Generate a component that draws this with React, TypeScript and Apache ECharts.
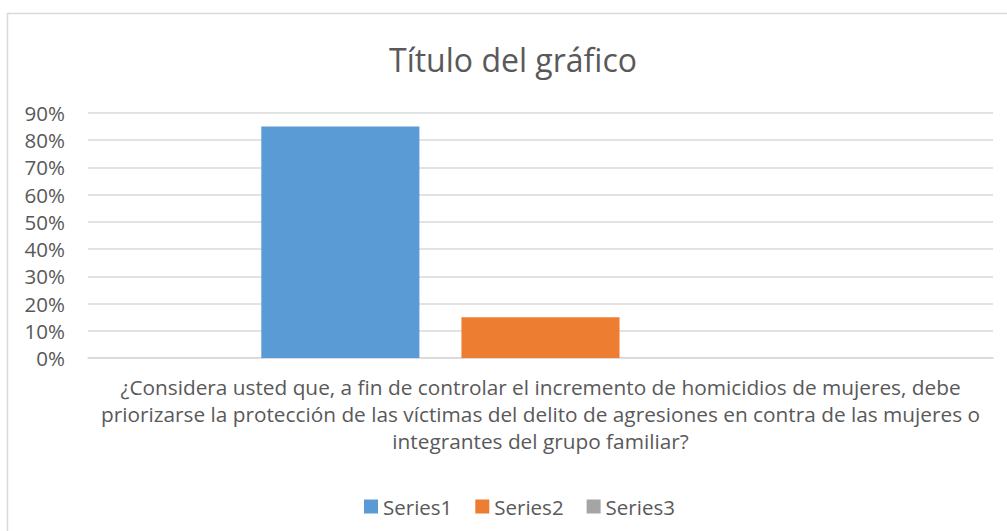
import React, { useEffect, useRef } from "react";
import * as echarts from "echarts";

const categories = [
  "¿Considera usted que, a fin de controlar el incremento de homicidios de mujeres, debe\npriorizarse la protección de las víctimas del delito de agresiones en contra de las mujeres o\nintegrantes del grupo familiar?",
];
const seriesNames = ["Series1", "Series2", "Series3"];
const series1 = [0.85];
const series2 = [0.15];
const series3 = [0];
const colors = ["#5B9BD5", "#ED7D31", "#A5A5A5"];

const FONT = "'Open Sans', 'Noto Sans', sans-serif";
const TEXT = "#595959";

export default function App() {
  const ref = useRef<HTMLDivElement>(null);
  useEffect(() => {
    if (!ref.current) return;
    const chart = echarts.init(ref.current, undefined, { renderer: "svg" });
    const values = [series1, series2, series3];
    chart.setOption({
      animation: false,
      backgroundColor: "#ffffff",
      textStyle: { fontFamily: FONT, color: TEXT },
      title: {
        text: "Título del gráfico",
        left: 384,
        top: 38,
        textStyle: { fontFamily: FONT, fontSize: 32, fontWeight: "normal", color: TEXT },
      },
      graphic: [
        {
          type: "rect",
          shape: { x: 7.5, y: 13.5, width: 1010, height: 530 },
          style: { fill: "none", stroke: "#D9D9D9", lineWidth: 1.5 },
          silent: true,
        },
      ],
      legend: {
        data: seriesNames,
        bottom: 9,
        left: 359,
        icon: "rect",
        itemWidth: 14,
        itemHeight: 14,
        itemGap: 23,
        textStyle: { fontFamily: FONT, fontSize: 20.5, color: TEXT, padding: [0, 0, 0, 0] },
      },
      grid: { left: 88, right: 14, top: 113, bottom: 173, containLabel: false },
      xAxis: {
        type: "category",
        data: categories,
        axisLine: { show: true, lineStyle: { color: "#D9D9D9", width: 1.5 } },
        axisTick: { show: false },
        axisLabel: {
          fontFamily: FONT,
          fontSize: 20.8,
          color: TEXT,
          lineHeight: 27,
          margin: 15,
          align: "center",
        },
      },
      yAxis: {
        type: "value",
        min: 0,
        max: 0.9,
        interval: 0.1,
        axisLine: { show: false },
        axisTick: { show: false },
        splitLine: { lineStyle: { color: "#D9D9D9", width: 1.5 } },
        axisLabel: {
          fontFamily: FONT,
          fontSize: 20.5,
          color: TEXT,
          margin: 23,
          formatter: (v: number) => `${Math.round(v * 100)}%`,
        },
      },
      series: seriesNames.map((name, i) => ({
        name,
        type: "bar",
        data: values[i],
        itemStyle: { color: colors[i] },
        barGap: "26.6%",
        barCategoryGap: "38.3%",
      })),
    });
    return () => chart.dispose();
  }, []);
  return (
    <div
      ref={ref}
      style={{ position: "fixed", left: 0, top: 0, width: 1007, height: 531 }}
    />
  );
}
